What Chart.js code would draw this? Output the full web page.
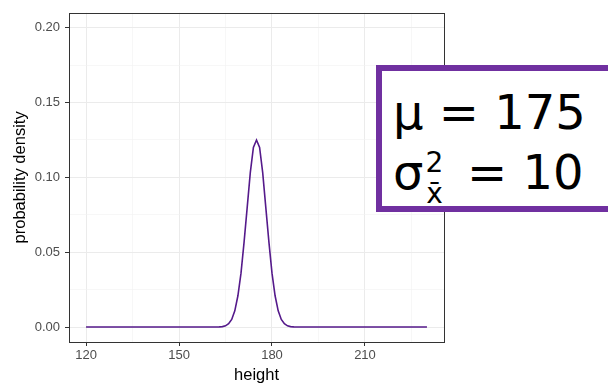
<!DOCTYPE html>
<html>
<head>
<meta charset="utf-8">
<script src="https://cdn.jsdelivr.net/npm/chart.js@4"></script>
<style>
  html, body { margin: 0; padding: 0; background: #fff; }
  #wrap { position: relative; width: 608px; height: 385px; overflow: hidden; }
  #box {
    position: absolute; left: 376px; top: 65px; width: 260px; height: 135px;
    border: 6px solid #7030A0; background: #fff;
    font-family: "DejaVu Sans", Verdana, sans-serif; font-size: 48px; color: #000;
  }
  .ln { position: absolute; left: 11px; white-space: nowrap; }
  .sm { font-size: 28px; position: relative; }
</style>
</head>
<body>
<div id="wrap">
  <canvas id="densityChart" width="608" height="385"></canvas>
  <div id="box">
    <div class="ln" style="top:13px">μ = 175</div>
    <div class="ln" style="top:73px">σ<span class="sm" style="top:-17px; margin-left:2px">2</span><span class="sm" style="top:14px; margin-left:-17px; margin-right:9px">x̄</span> = 10</div>
  </div>
</div>
<script>
// values
const heights = [120, 160, 161, 162, 163, 164, 165, 166, 167, 168, 169, 170, 171, 172, 173, 174, 175,
                 176, 177, 178, 179, 180, 181, 182, 183, 184, 185, 186, 187, 188, 190, 230];
const density = [0, 0, 0, 0, 0.0001, 0.0003, 0.0008, 0.0022, 0.0051, 0.0108, 0.0209, 0.0360, 0.0569, 0.0800, 0.1032, 0.1200, 0.1250,
                 0.1200, 0.1032, 0.0800, 0.0569, 0.0360, 0.0209, 0.0108, 0.0051, 0.0022, 0.0008, 0.0003, 0.0001, 0, 0, 0];
const xTicks = [120, 135, 150, 165, 180, 195, 210, 225];
const xLabels = [120, 150, 180, 210];
const yTicks = [0, 0.025, 0.05, 0.075, 0.1, 0.125, 0.15, 0.175, 0.2];
const yLabels = [0, 0.05, 0.1, 0.15, 0.2];

const isMajor = (list, v) => list.some(l => Math.abs(l - v) < 1e-9);

const panelBorder = {
    id: 'panelBorder',
    afterDraw(chart) {
        const { ctx, chartArea: a } = chart;
        ctx.save();
        ctx.strokeStyle = '#333333';
        ctx.lineWidth = 1;
        ctx.strokeRect(Math.round(a.left) + 0.5, Math.round(a.top) + 0.5,
                       Math.round(a.right - a.left), Math.round(a.bottom - a.top));
        ctx.restore();
    }
};

const ctx = document.getElementById('densityChart').getContext('2d');
new Chart(ctx, {
    type: 'line',
    data: {
        datasets: [{
            data: heights.map((h, i) => ({ x: h, y: density[i] })),
            borderColor: '#551A8B',
            borderWidth: 1.6,
            pointRadius: 0,
            tension: 0,
            fill: false
        }]
    },
    options: {
        responsive: false,
        animation: false,
        devicePixelRatio: 1,
        layout: { padding: { top: 10, right: 164, left: 0, bottom: 0 } },
        plugins: { legend: { display: false }, tooltip: { enabled: false } },
        scales: {
            x: {
                type: 'linear',
                min: 114.5,
                max: 235.5,
                afterBuildTicks: s => { s.ticks = xTicks.map(v => ({ value: v })); },
                afterFit: s => { s.height = 43; },
                border: { display: false },
                grid: {
                    color: c => isMajor(xLabels, c.tick.value) ? '#EBEBEB' : '#F2F2F2',
                    lineWidth: c => isMajor(xLabels, c.tick.value) ? 1 : 0.6,
                    tickColor: c => isMajor(xLabels, c.tick.value) ? '#333333' : 'rgba(0,0,0,0)',
                    tickLength: 4
                },
                ticks: {
                    color: '#4D4D4D',
                    font: { family: 'Liberation Sans', size: 13 },
                    padding: 2,
                    maxRotation: 0,
                    autoSkip: false,
                    callback: v => isMajor(xLabels, v) ? String(v) : ''
                },
                title: {
                    display: true,
                    text: 'height',
                    color: '#000',
                    font: { family: 'Liberation Sans', size: 16.5 },
                    padding: { top: 1, bottom: 0 }
                }
            },
            y: {
                min: -0.01,
                max: 0.21,
                afterBuildTicks: s => { s.ticks = yTicks.map(v => ({ value: v })); },
                afterFit: s => { s.width = 69; },
                border: { display: false },
                grid: {
                    color: c => isMajor(yLabels, c.tick.value) ? '#EBEBEB' : '#F2F2F2',
                    lineWidth: c => isMajor(yLabels, c.tick.value) ? 1 : 0.6,
                    tickColor: c => isMajor(yLabels, c.tick.value) ? '#333333' : 'rgba(0,0,0,0)',
                    tickLength: 4
                },
                ticks: {
                    color: '#4D4D4D',
                    font: { family: 'Liberation Sans', size: 13 },
                    padding: 5,
                    autoSkip: false,
                    callback: v => isMajor(yLabels, v) ? v.toFixed(2) : ''
                },
                title: {
                    display: true,
                    text: 'probability density',
                    color: '#000',
                    font: { family: 'Liberation Sans', size: 16.5 },
                    padding: { top: 11, bottom: 2 }
                }
            }
        }
    },
    plugins: [panelBorder]
});
</script>
</body>
</html>
